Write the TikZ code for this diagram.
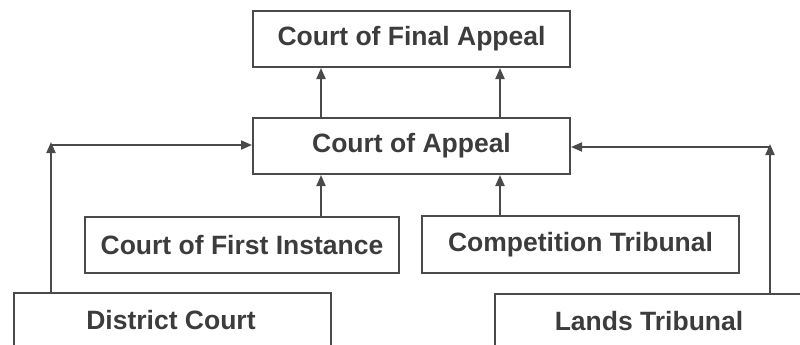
\documentclass[tikz,border=0pt]{standalone}
\usepackage{fontspec}
\setmainfont{Liberation Sans}
\usetikzlibrary{arrows.meta}
\definecolor{ln}{HTML}{4A4A4A}
\definecolor{tx}{HTML}{3C3C3C}
\tikzset{
  court/.style={draw=ln, line width=2pt, rectangle, inner sep=0pt, text=tx,
     font=\fontsize{26.5}{30}\selectfont\bfseries, anchor=north west},
  label/.style={text=tx, inner sep=0pt, anchor=center,
     font=\fontsize{26.5}{30}\selectfont\bfseries},
  conn/.style={draw=ln, line width=2pt, -{Triangle[length=11pt,width=9pt]}},
}
\begin{document}
\begin{tikzpicture}[x=1pt,y=-1pt]
\useasboundingbox (0,0) rectangle (800,345);
\clip (0,0) rectangle (800,345);
\node[court, minimum width=317pt, minimum height=56pt] (cfa) at (252,10) {Court of Final Appeal};
\node[court, minimum width=317pt, minimum height=56pt] (ca) at (252,117) {Court of Appeal};
\node[court, minimum width=314pt, minimum height=56pt] (cfi) at (84,216) {Court of First Instance};
\node[court, minimum width=317pt, minimum height=57pt] (ct) at (421,215) {Competition Tribunal};
\node[court, minimum width=317pt, minimum height=80pt] (dc) at (13,292) {};
\node[label] (dct) at (171,320) {District Court};
\node[court, minimum width=317pt, minimum height=80pt] (lt) at (494,293) {};
\node[label] (ltt) at (649,321) {Lands Tribunal};
\coordinate (lc) at (51,145);
\coordinate (rc) at (770,147);
% arrows to Court of Final Appeal
\draw[conn] (ca.north -| 321,0) -- (cfa.south -| 321,0);
\draw[conn] (ca.north -| 500,0) -- (cfa.south -| 500,0);
% arrows to Court of Appeal
\draw[conn] (cfi.north -| 321,0) -- (ca.south -| 321,0);
\draw[conn] (ct.north -| 500,0) -- (ca.south -| 500,0);
% District Court
\draw[conn] (dc.north -| lc) -- ([yshift=3pt]lc);
\draw[conn] ([xshift=-1pt]lc) -- (ca.west |- lc);
% Lands Tribunal
\draw[conn] (lt.north -| rc) -- ([yshift=3pt]rc);
\draw[conn] ([xshift=1pt]rc) -- (ca.east |- rc);
\end{tikzpicture}
\end{document}
